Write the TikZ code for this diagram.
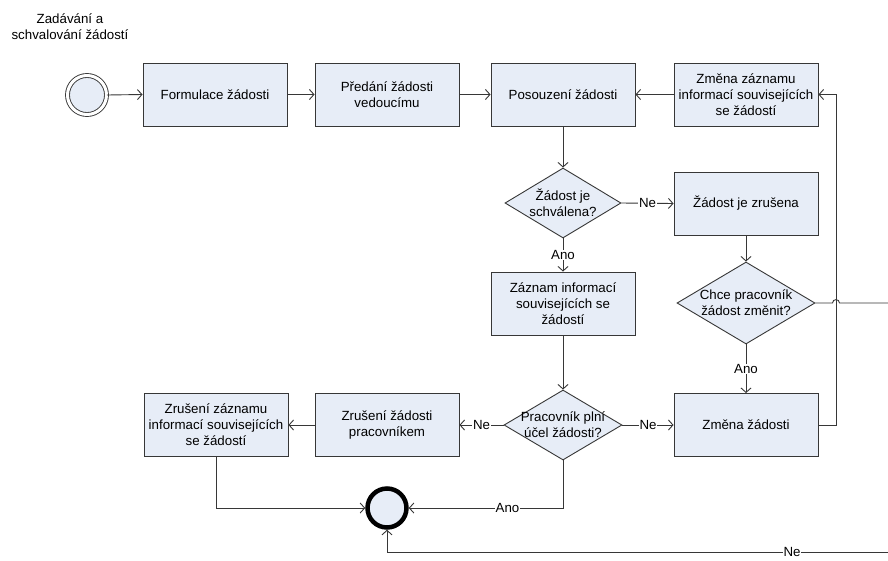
\documentclass[tikz,border=0pt]{standalone}
\usepackage{fontspec}
\setmainfont{Liberation Sans}
\usetikzlibrary{shapes.geometric,arrows.meta}
\definecolor{boxfill}{RGB}{231,237,247}
\definecolor{edge}{RGB}{55,55,55}
\begin{document}
\begin{tikzpicture}[x=1pt,y=-1pt,
  every node/.style={font=\fontsize{13.3}{16}\selectfont},
  box/.style={draw=edge, fill=boxfill, line width=0.9pt, minimum width=144pt, minimum height=63pt, align=center, inner sep=2pt},
  dec/.style={diamond, draw=edge, fill=boxfill, line width=0.9pt, inner sep=0pt},
  conn/.style={draw=edge, line width=0.9pt, -{Straight Barb[length=4.5pt,width=10pt]}},
  plain/.style={draw=edge, line width=0.9pt},
  lbl/.style={fill=white, inner sep=0.6pt},
]
\path[fill=white] (0,0) rectangle (888,560);
\useasboundingbox (0,0) rectangle (888,560);

\node[align=center] (title) at (70,27) {Zadávání a\\schvalování žádostí};

\node[circle, draw=edge, fill=boxfill, line width=0.9pt, double=white, double distance=3pt, minimum size=39pt] (start) at (87,95) {};

\node[box] (f) at (215,94.5) {Formulace žádosti};
\node[box] (p) at (387,94.5) {Předání žádosti\\vedoucímu};
\node[box] (pos) at (563,94.5) {Posouzení žádosti};
\node[box] (zz) at (746,94.5) {Změna záznamu\\informací souvisejících\\se žádostí};

\node[dec, minimum width=116pt, minimum height=70pt, label={[align=center]center:Žádost je\\schválena?}] (d1) at (563,203) {};
\node[box] (zr) at (746,203.5) {Žádost je zrušena};
\node[box] (zaz) at (563,303.5) {Záznam informací\\souvisejících se\\žádostí};
\node[dec, minimum width=138pt, minimum height=82pt, label={[align=center]center:Chce pracovník\\žádost změnit?}] (d2) at (746,303) {};

\node[box] (zz2) at (216,425) {Zrušení záznamu\\informací souvisejících\\se žádostí};
\node[box] (zp) at (387,425) {Zrušení žádosti\\pracovníkem};
\node[dec, minimum width=118pt, minimum height=70pt, label={[align=center]center:Pracovník plní\\účel žádosti?}] (d3) at (563,425) {};
\node[box] (zm) at (746,425) {Změna žádosti};

\node[circle, draw=black, fill=boxfill, line width=4.5pt, minimum size=39pt] (end) at (387,508) {};

\coordinate (rx) at (836,0);
\coordinate (jx) at (836,303);
\coordinate (rt) at (905,303);
\coordinate (rb) at (905,552);

\draw[conn] (start.east) -- (f.west);
\draw[conn] (f.east) -- (p.west);
\draw[conn] (p.east) -- (pos.west);
\draw[conn] (zz.west) -- (pos.east);
\draw[conn] (pos.south) -- (d1.north);
\draw[conn] (d1.east) -- node[lbl]{Ne} (zr.west);
\draw[conn] (d1.south) -- node[lbl]{Ano} (zaz.north);
\draw[conn] (zr.south) -- (d2.north);
\draw[conn] (d2.south) -- node[lbl]{Ano} (zm.north);
\draw[conn] (zaz.south) -- (d3.north);
\draw[conn] (d3.east) -- node[lbl]{Ne} (zm.west);
\draw[conn] (d3.west) -- node[lbl]{Ne} (zp.east);
\draw[conn] (zp.west) -- (zz2.east);
\draw[conn] (zz2.south) |- (end.west);
\draw[conn] (d3.south) |- node[lbl,pos=0.68]{Ano} (end.east);
\draw[conn] (zm.east) -- (zm.east -| rx) |- (zz.east);
\draw[plain] (d2.east) -- ([xshift=-3.5pt]jx) .. controls ([xshift=-3.5pt,yshift=4.5pt]jx) and ([xshift=3.5pt,yshift=4.5pt]jx) .. ([xshift=3.5pt]jx) -- (rt);
\draw[conn] (rt) -- (rb) -| node[lbl,pos=0.109]{Ne} (end.south);
\end{tikzpicture}
\end{document}
